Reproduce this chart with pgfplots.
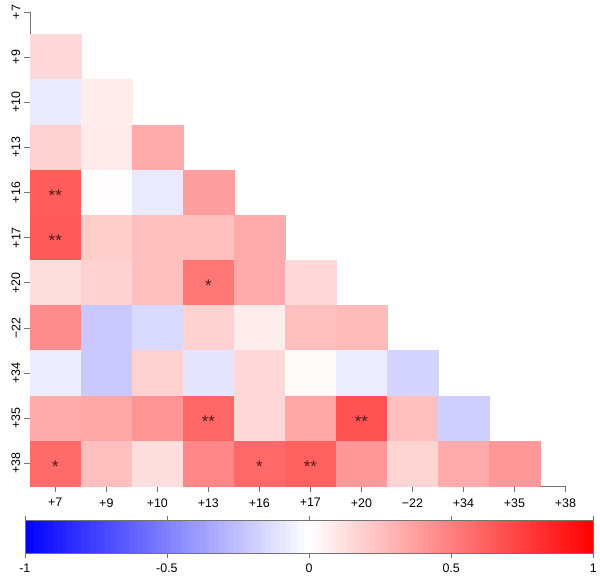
\documentclass[border=0pt]{standalone}
\usepackage{fontspec}
\setmainfont{Liberation Sans}
\usepackage{pgfplots}
\usepackage{pgfplotstable}
\pgfplotsset{compat=1.18}
\definecolor{axgray}{rgb}{0.45,0.45,0.45}
\definecolor{starcol}{RGB}{85,25,25}
\pgfplotstableread{
x y v
0 9 0.15
0 8 -0.08
1 8 0.07
0 7 0.18
1 7 0.08
2 7 0.33
0 6 0.64
1 6 0.01
2 6 -0.08
3 6 0.38
0 5 0.65
1 5 0.20
2 5 0.25
3 5 0.25
4 5 0.33
0 4 0.13
1 4 0.18
2 4 0.25
3 4 0.54
4 4 0.33
5 4 0.15
0 3 0.45
1 3 -0.21
2 3 -0.15
3 3 0.18
4 3 0.07
5 3 0.25
6 3 0.27
0 2 -0.07
1 2 -0.21
2 2 0.18
3 2 -0.10
4 2 0.15
5 2 0.02
6 2 -0.07
7 2 -0.17
0 1 0.33
1 1 0.35
2 1 0.42
3 1 0.60
4 1 0.15
5 1 0.35
6 1 0.68
7 1 0.25
8 1 -0.19
0 0 0.58
1 0 0.25
2 0 0.13
3 0 0.47
4 0 0.59
5 0 0.62
6 0 0.40
7 0 0.17
8 0 0.33
9 0 0.40
}\cells
\pgfplotstableread{
x y s
0 6 **
0 5 **
3 4 *
3 1 **
6 1 **
0 0 *
4 0 *
5 0 **
}\stars
\begin{document}
\begin{tikzpicture}
\begin{axis}[
  name=main,
  scale only axis,
  width=539bp, height=477bp,
  xmin=-0.5, xmax=10, ymin=-0.5, ymax=10,
  axis x line*=bottom, axis y line*=left,
  axis line style={axgray, line width=0.6pt},
  tick style={axgray, line width=0.6pt},
  tick align=outside,
  major tick length=6bp,
  xtick={0,...,10}, ytick={0,...,10},
  xticklabels={+7,+9,+10,+13,+16,+17,+20,−22,+34,+35,+38},
  yticklabels={+38,+35,+34,−22,+20,+17,+16,+13,+10,+9,+7},
  yticklabel style={rotate=90, anchor=south},
  xticklabel style={yshift=-3bp},
  tick label style={font=\fontsize{12.5bp}{15bp}\selectfont},
  colormap={bwr}{rgb255=(0,0,255) rgb255=(255,255,255) rgb255=(255,0,0)},
  point meta min=-1, point meta max=1,
  colorbar horizontal,
  colorbar sampled,
  colorbar style={
    at={(-0.0093,-0.0734)}, anchor=north west,
    scale only axis,
    width=572bp, height=33bp,
    samples=121,
    ymin=0, ymax=1, enlargelimits=false,
    xtick={-1,-0.5,0,0.5,1},
    xticklabel pos=lower,
    xtick align=outside,
    major tick length=5bp,
    axis line style={axgray, line width=0.5pt},
    tick style={axgray, line width=0.5pt},
    xticklabel style={font=\fontsize{12.5bp}{15bp}\selectfont, yshift=-2bp},
    /pgf/number format/assume math mode=true,
  },
  clip=false,
]
\addplot[scatter, only marks, mark=square*, point meta=explicit,
  mark size=25.8bp,
  mark options={yscale=0.882, line width=0.2pt},
  scatter/use mapped color={draw=mapped color, fill=mapped color}]
  table[x=x, y=y, meta=v]{\cells};
\addplot[only marks, mark=none, point meta=explicit symbolic,
  nodes near coords,
  nodes near coords style={anchor=center, text=starcol,
    font=\fontsize{17bp}{17bp}\selectfont, yshift=-3bp}]
  table[x=x, y=y, meta=s]{\stars};
\end{axis}
\path ([xshift=-30bp,yshift=-95bp]main.south west) rectangle ([xshift=31bp,yshift=12bp]main.north east);
\end{tikzpicture}
\end{document}
